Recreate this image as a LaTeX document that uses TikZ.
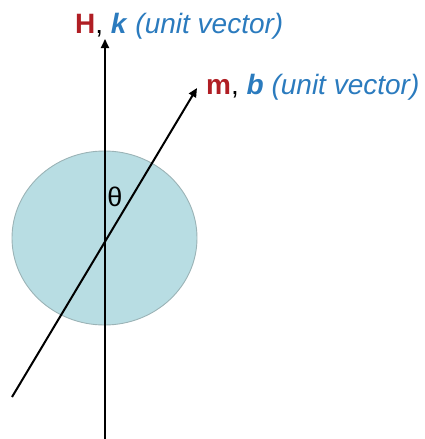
\documentclass[tikz,border=0pt]{standalone}
\usepackage{fontspec}
\setmainfont{Liberation Sans}
\usepackage{tikz}
\usetikzlibrary{arrows.meta,shapes.geometric}
\definecolor{cField}{HTML}{B01E24}
\definecolor{cUnit}{HTML}{2B7BBE}
\definecolor{cGrain}{HTML}{B8DDE3}
\definecolor{cGrainE}{HTML}{9BB3B6}
\tikzset{
  vec/.style   ={-{Triangle[length=9pt,width=8pt]}, line width=2pt, draw=black},
  grain/.style ={ellipse, draw=cGrainE, fill=cGrain, line width=0.9pt,
                 minimum width=185pt, minimum height=174pt, inner sep=0},
  lbl/.style   ={anchor=base west, inner sep=0, font=\fontsize{28}{32}\selectfont},
  ang/.style   ={inner sep=0, font=\fontsize{27}{30}\selectfont},
}

\begin{document}
\begin{tikzpicture}[x=1pt,y=-1pt]
  \useasboundingbox (0,0) rectangle (425,439);

  % ---- particle ----
  \node[grain] (grain) at (104.5,238) {};

  % ---- field axis ----
  \coordinate (htail) at (105,439);
  \coordinate (htip)  at (105,39);
  \draw[vec] (htail) -- (htip);

  % ---- moment axis ----
  \coordinate (mtail) at (12,397);
  \coordinate (mtip)  at (197,88);
  \draw[vec] (mtail) -- (mtip);

  % ---- labels ----
  \node[lbl] (hlab) at (75,33)
    {\textcolor{cField}{\textbf{H}}, \textcolor{cUnit}{\textbf{\textit{k}} \textit{(unit vector)}}};
  \node[lbl] (mlab) at (206,94)
    {\textcolor{cField}{\textbf{m}}, \textcolor{cUnit}{\textbf{\textit{b}} \textit{(unit vector)}}};
  \node[ang] (theta) at (115,197) {θ};

\end{tikzpicture}
\end{document}
